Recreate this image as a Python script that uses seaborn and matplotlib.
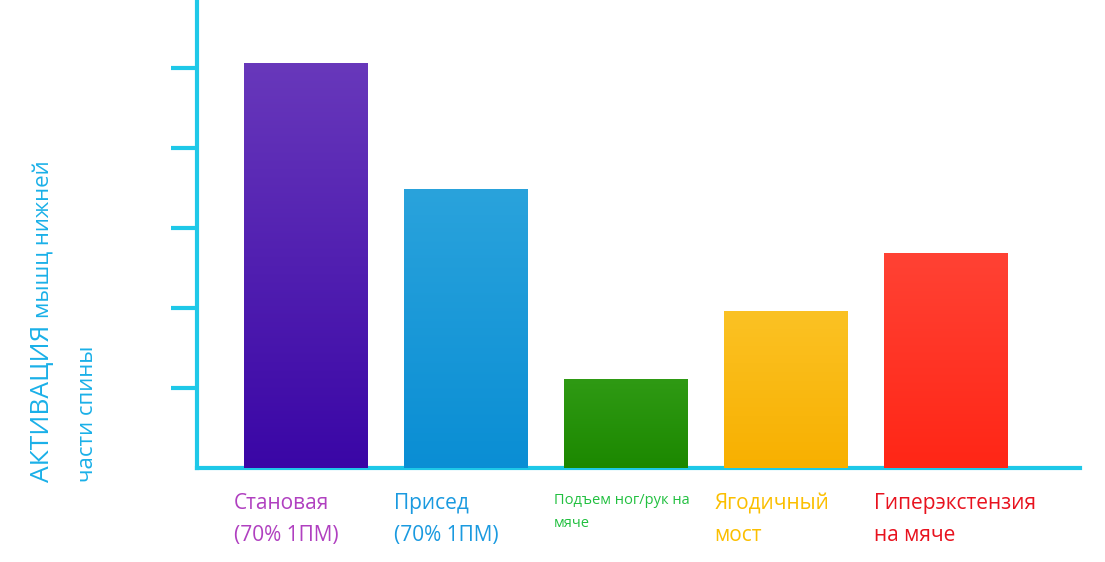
import matplotlib
matplotlib.use("Agg")
import matplotlib.pyplot as plt
import seaborn as sns
import numpy as np
import pandas as pd

categories = ["Становая\n(70% 1ПМ)", "Присед\n(70% 1ПМ)", "Подъем ног/рук на\nмяче", "Ягодичный\nмост", "Гиперэкстензия\nна мяче"]
values = [5.06, 3.49, 1.11, 1.96, 2.69]
top_colors = ["#6838bb", "#2aa3dc", "#2f9a14", "#fbc224", "#ff4234"]
bot_colors = ["#3a06a6", "#0a8ed4", "#1c8800", "#f8b000", "#ff2616"]
label_colors = ["#b040c0", "#1a9ae0", "#22c040", "#fbbf00", "#e8121e"]
label_sizes = [15, 15, 10.5, 15, 15]

sns.set_style("white")
plt.rcParams['font.family'] = ['Open Sans', 'DejaVu Sans']

fig = plt.figure(figsize=(11.05, 5.62), dpi=100)
ax = fig.add_axes([197/1105, 1-468/562, (1080-197)/1105, 468/562])
df = pd.DataFrame({"cat": categories, "val": values})
sns.barplot(data=df, x="cat", y="val", ax=ax, width=0.775, color="#888888")
ax.set_xlim(-0.68, 4.84)
ax.set_ylim(0, 5.85)

# gradient fills clipped to bars
grad = np.linspace(0, 1, 256).reshape(-1, 1)
from matplotlib.colors import LinearSegmentedColormap
for p, tc, bc in zip(ax.patches, top_colors, bot_colors):
    x0, y0 = p.get_x(), p.get_y()
    w, h = p.get_width(), p.get_height()
    cmap = LinearSegmentedColormap.from_list("g", [bc, tc])
    im = ax.imshow(grad, cmap=cmap, extent=[x0, x0 + w, y0, y0 + h], origin="lower", aspect="auto", zorder=3)
    im.set_clip_path(p)
    p.set_facecolor("none")
ax.set_xlim(-0.68, 4.84)
ax.set_ylim(0, 5.85)

spine_c = "#1ec8e8"
for s in ["top", "right"]:
    ax.spines[s].set_visible(False)
for s in ["left", "bottom"]:
    ax.spines[s].set_color(spine_c)
    ax.spines[s].set_linewidth(3)
ax.set_yticks([1, 2, 3, 4, 5])
ax.set_yticklabels([])
ax.tick_params(axis="y", length=19, width=3, color=spine_c, left=True)
ax.set_xticks([])
ax.set_xlabel("")
ax.set_ylabel("")

for i, (cat, c, fs) in enumerate(zip(categories, label_colors, label_sizes)):
    ax.annotate(cat, xy=(i - 0.3875 - 0.06, 0), xycoords="data", xytext=(0, -18), textcoords="offset points",
                ha="left", va="top", color=c, fontsize=fs, linespacing=1.7, annotation_clip=False)

yc = "#1ab0e8"
fig.text(30/1105, 1-482/562, "АКТИВАЦИЯ", rotation=90, fontsize=19, color=yc, ha="left", va="bottom")
fig.text(33/1105, 1-318/562, "мышц нижней", rotation=90, fontsize=16, color=yc, ha="left", va="bottom")
fig.text(77/1105, 1-482/562, "части спины", rotation=90, fontsize=16, color=yc, ha="left", va="bottom")

fig.savefig("out.png", dpi=100)
